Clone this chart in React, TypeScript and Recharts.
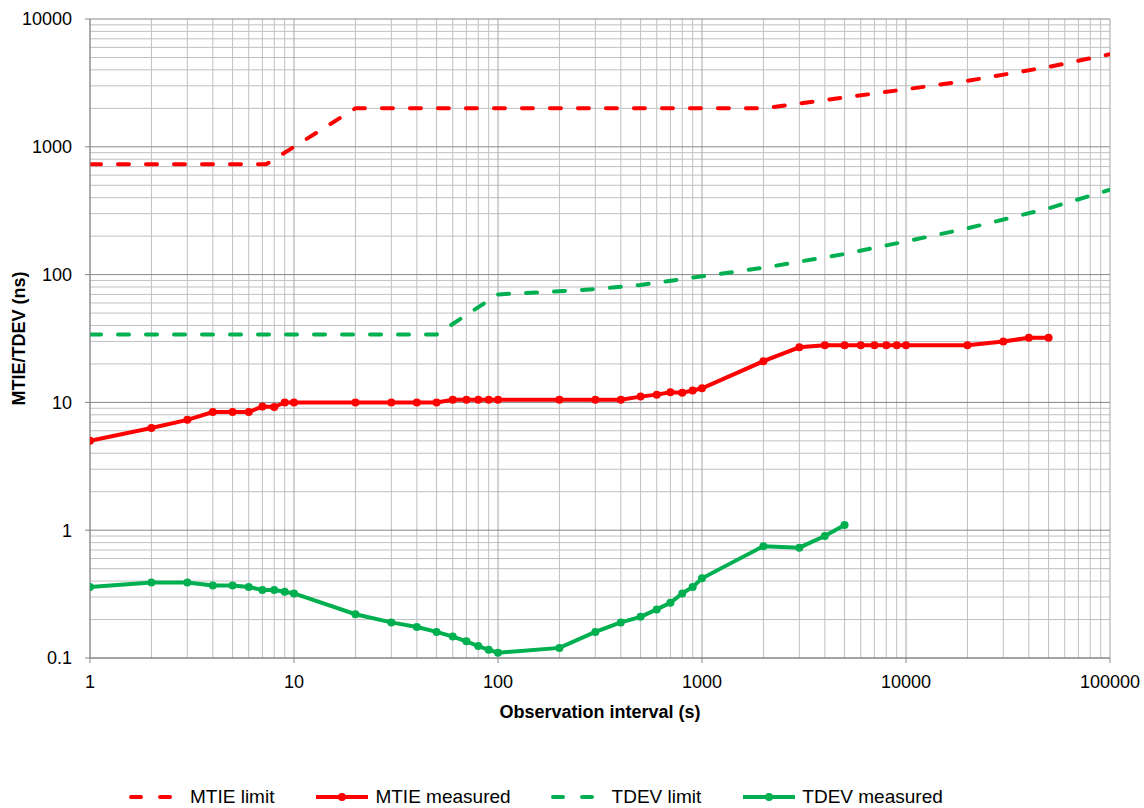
import React from "react"
import {
  CartesianGrid,
  Label,
  Line,
  LineChart,
  XAxis,
  YAxis,
} from "recharts"

// MTIE limit mask (ns)
const mtieLimitX = [1, 7.3, 10, 20, 2000, 5000, 10000, 20000, 50000, 100000]
const mtieLimitY = [730, 730, 1000, 2000, 2000, 2430, 2820, 3280, 4220, 5300]

// MTIE measured (ns)
const mtieMeasX = [
  1, 2, 3, 4, 5, 6, 7, 8, 9, 10, 20, 30, 40, 50, 60, 70, 80, 90, 100, 200, 300,
  400, 500, 600, 700, 800, 900, 1000, 2000, 3000, 4000, 5000, 6000, 7000, 8000,
  9000, 10000, 20000, 30000, 40000, 50000,
]
const mtieMeasY = [
  5.0, 6.3, 7.3, 8.4, 8.4, 8.4, 9.3, 9.2, 10, 10, 10, 10, 10, 10, 10.5, 10.5,
  10.5, 10.5, 10.5, 10.5, 10.5, 10.5, 11.1, 11.5, 12.0, 11.9, 12.4, 12.9, 21,
  27, 28, 28, 28, 28, 28, 28, 28, 28, 30, 32, 32,
]

// TDEV limit mask (ns)
const tdevLimitX = [1, 50, 100, 200, 300, 500, 1000, 2000, 5000, 10000, 20000, 50000, 100000]
const tdevLimitY = [34, 34, 70, 74, 77, 83, 97, 113, 145, 182, 230, 330, 461]

// TDEV measured (ns)
const tdevMeasX = [
  1, 2, 3, 4, 5, 6, 7, 8, 9, 10, 20, 30, 40, 50, 60, 70, 80, 90, 100, 200, 300,
  400, 500, 600, 700, 800, 900, 1000, 2000, 3000, 4000, 5000,
]
const tdevMeasY = [
  0.36, 0.39, 0.39, 0.37, 0.37, 0.36, 0.34, 0.34, 0.33, 0.32, 0.22, 0.19, 0.175,
  0.16, 0.147, 0.135, 0.124, 0.116, 0.11, 0.12, 0.16, 0.19, 0.21, 0.24, 0.27,
  0.32, 0.36, 0.42, 0.75, 0.73, 0.9, 1.1,
]

const xTicks = [1, 10, 100, 1000, 10000, 100000]
const yTicks = [0.1, 1, 10, 100, 1000, 10000]
const minorSteps = [2, 3, 4, 5, 6, 7, 8, 9]

const minorOf = (decades: number[]) =>
  decades.slice(0, -1).flatMap((d) => minorSteps.map((m) => +(d * m).toPrecision(3)))

const xMinor = minorOf(xTicks)
const yMinor = minorOf(yTicks)

const zip = (xs: number[], ys: number[]) => xs.map((x, i) => ({ x, y: ys[i] }))

const RED = "#ff0000"
const GREEN = "#00b050"
const FONT = "'Liberation Sans', Arial, sans-serif"

const legendItems = [
  { name: "MTIE limit", color: RED, dashed: true },
  { name: "MTIE measured", color: RED, dashed: false },
  { name: "TDEV limit", color: GREEN, dashed: true },
  { name: "TDEV measured", color: GREEN, dashed: false },
]

const LegendIcon = ({ color, dashed }: { color: string; dashed: boolean }) => (
  <svg width={56} height={12} style={{ display: "block" }}>
    <line
      x1={2}
      y1={6}
      x2={54}
      y2={6}
      stroke={color}
      strokeWidth={4}
      strokeLinecap={dashed ? "round" : "butt"}
      strokeDasharray={dashed ? "10 19" : undefined}
    />
    {!dashed && <circle cx={28} cy={6} r={4} fill={color} />}
  </svg>
)

export default function App() {
  return (
    <div style={{ position: "absolute", left: 0, top: 0, width: 1144, height: 808, fontFamily: FONT }}>
      <LineChart
        width={1144}
        height={760}
        margin={{ top: 19, right: 34, left: 0, bottom: 42 }}
        style={{ fontFamily: FONT }}
      >
        <CartesianGrid
          stroke="#c0c0c0"
          strokeWidth={1}
          horizontalValues={yMinor}
          verticalValues={xMinor}
        />
        <CartesianGrid stroke="#a6a6a6" horizontal={false} verticalValues={xTicks} />
        <CartesianGrid stroke="#868686" vertical={false} horizontalValues={yTicks} />
        <XAxis
          dataKey="x"
          type="number"
          scale="log"
          domain={[1, 100000]}
          ticks={xTicks}
          interval={0}
          allowDataOverflow
          height={60}
          axisLine={{ stroke: "#868686" }}
          tickLine={{ stroke: "#868686" }}
          tickSize={5}
          tickMargin={12}
          tick={{ fontSize: 18, fill: "#000" }}
          tickFormatter={(v: number) => String(v)}
        >
          <Label
            value="Observation interval (s)"
            position="insideBottom"
            offset={0}
            style={{ fontSize: 18, fontWeight: "bold", fill: "#000" }}
          />
        </XAxis>
        <YAxis
          dataKey="y"
          type="number"
          scale="log"
          domain={[0.1, 10000]}
          ticks={yTicks}
          interval={0}
          allowDataOverflow
          width={90}
          axisLine={{ stroke: "#868686" }}
          tickLine={{ stroke: "#868686" }}
          tickSize={5}
          tickMargin={13}
          tick={{ fontSize: 18, fill: "#000" }}
          tickFormatter={(v: number) => String(v)}
        >
          <Label
            value="MTIE/TDEV (ns)"
            angle={-90}
            position="insideLeft"
            offset={19}
            style={{ fontSize: 18, fontWeight: "bold", fill: "#000", textAnchor: "middle" }}
          />
        </YAxis>
        <Line
          data={zip(mtieLimitX, mtieLimitY)}
          dataKey="y"
          name="MTIE limit"
          type="linear"
          stroke={RED}
          strokeWidth={4}
          strokeDasharray="11 17"
          strokeLinecap="round"
          dot={false}
          activeDot={false}
          isAnimationActive={false}
        />
        <Line
          data={zip(tdevLimitX, tdevLimitY)}
          dataKey="y"
          name="TDEV limit"
          type="linear"
          stroke={GREEN}
          strokeWidth={4}
          strokeDasharray="11 17"
          strokeLinecap="round"
          dot={false}
          activeDot={false}
          isAnimationActive={false}
        />
        <Line
          data={zip(mtieMeasX, mtieMeasY)}
          dataKey="y"
          name="MTIE measured"
          type="linear"
          stroke={RED}
          strokeWidth={4}
          dot={{ r: 4, fill: RED, stroke: RED, strokeWidth: 0 }}
          activeDot={false}
          isAnimationActive={false}
        />
        <Line
          data={zip(tdevMeasX, tdevMeasY)}
          dataKey="y"
          name="TDEV measured"
          type="linear"
          stroke={GREEN}
          strokeWidth={4}
          dot={{ r: 4, fill: GREEN, stroke: GREEN, strokeWidth: 0 }}
          activeDot={false}
          isAnimationActive={false}
        />
      </LineChart>
      <div
        style={{
          position: "absolute",
          left: 129,
          top: 786,
          display: "flex",
          alignItems: "center",
          fontSize: 19,
          color: "#000",
          whiteSpace: "nowrap",
        }}
      >
        {legendItems.map((it) => (
          <div key={it.name} style={{ display: "flex", alignItems: "center", marginRight: 40 }}>
            <LegendIcon color={it.color} dashed={it.dashed} />
            <span style={{ marginLeft: 5 }}>{it.name}</span>
          </div>
        ))}
      </div>
    </div>
  )
}
